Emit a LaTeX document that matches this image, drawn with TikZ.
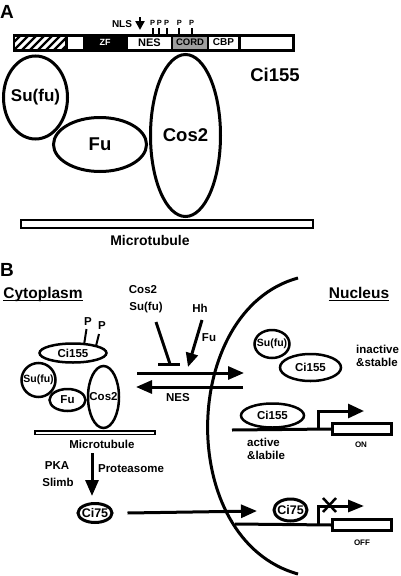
\documentclass[tikz,border=0pt]{standalone}
\usepackage{fontspec}
\setmainfont{Liberation Sans}
\usetikzlibrary{shapes.geometric,arrows.meta}
\definecolor{cordgray}{gray}{0.62}
\tikzset{
  blob/.style={ellipse,draw,fill=white,line width=2.5pt,inner sep=0pt},
  bigblob/.style={blob,line width=3pt},
  txt/.style={font=\bfseries\fontsize{11.5}{13}\selectfont,inner sep=0pt},
  bigtxt/.style={font=\bfseries\fontsize{18.5}{19}\selectfont,inner sep=0pt},
  smalltxt/.style={font=\bfseries\fontsize{8}{8}\selectfont,inner sep=0pt},
  panel/.style={font=\bfseries\fontsize{19}{19}\selectfont,inner sep=0pt},
  title/.style={font=\bfseries\fontsize{15.5}{16}\selectfont,inner sep=0pt,anchor=base},
  seg/.style={fill=white,inner sep=0pt,minimum height=12pt,font=\bfseries\fontsize{10}{10}\selectfont},
  fat/.style={line width=3pt},
  head/.style={-{Triangle[length=16pt,width=13pt]}},
  gene/.style={draw,fill=white,line width=2.5pt,inner sep=0pt,minimum width=59pt,minimum height=11pt}
}
\begin{document}
\begin{tikzpicture}[x=1pt,y=-1pt]
\useasboundingbox (0,0) rectangle (400,576);
\node[panel] (panelA) at (7,12) {A};
\fill (13,33.5) rectangle (295,52);
\begin{scope}
  \clip (15,36.5) rectangle (65,48.5);
  \fill[white] (15,36.5) rectangle (65,48.5);
  \foreach \x in {4,12,...,68} \draw[line width=2.2pt] (\x,52) -- (\x+20,32);
\end{scope}
\node[seg,minimum width=15pt] (blank) at (75.5,42.5) {};
\node[seg,fill=none,text=white,font=\bfseries\fontsize{9}{9}\selectfont] (zf) at (105,42.5) {ZF};
\node[seg,minimum width=43pt,font=\bfseries\fontsize{11}{11}\selectfont] (nes) at (149.5,42.5) {NES};
\node[seg,fill=cordgray,minimum width=34pt,font=\bfseries\fontsize{9.5}{9.5}\selectfont] (cord) at (190,42.5) {CORD};
\node[seg,minimum width=29pt] (cbp) at (223.5,42.5) {CBP};
\node[seg,minimum width=51pt] (tail) at (266.5,42.5) {};
\node[txt,font=\bfseries\fontsize{10}{10}\selectfont] (nls) at (122,24) {NLS};
\coordinate (nlsTop) at (140,17);
\coordinate (nlsTip) at (140,30);
\draw[line width=2.5pt,-{Triangle[length=9pt,width=9pt]}] (nlsTop) -- (nlsTip);
\foreach \x [count=\i] in {152.7,159.3,166.7,179.3,191.7} {
  \draw[line width=2pt] (\x,33.5) -- (\x,28);
  \node[smalltxt,font=\bfseries\fontsize{7.5}{7.5}\selectfont] (p\i) at (\x,23) {P};
}
\node[bigtxt] (ci155A) at (275,75) {Ci155};
\node[bigblob,minimum width=64pt,minimum height=83pt,label={[bigtxt,font=\bfseries\fontsize{17}{17}\selectfont]center:Su(fu)}] (sufuA) at (35.5,97.5) {};
\node[bigblob,minimum width=93pt,minimum height=54pt,label={[bigtxt]center:Fu}] (fuA) at (100,144.5) {};
\node[bigblob,minimum width=70pt,minimum height=162pt,label={[bigtxt]center:Cos2}] (cos2A) at (185.5,135.5) {};
\draw[line width=2pt] (21,220) rectangle (313,228);
\node[txt,font=\bfseries\fontsize{14}{14}\selectfont] (mtA) at (150,240) {Microtubule};

\node[panel] (panelB) at (7,270) {B};
\node[title] (cyto) at (43,298) {Cytoplasm};
\draw[line width=1.5pt] ([yshift=-2.5pt]cyto.base west) -- ([yshift=-2.5pt]cyto.base east);
\node[title] (nuc) at (359,298) {Nucleus};
\draw[line width=1.5pt] ([yshift=-2.5pt]nuc.base west) -- ([yshift=-2.5pt]nuc.base east);
\draw[fat] (298,278) .. controls (180,310) and (175,540) .. (298,574);

\draw[line width=2pt] (84,345) -- (86.5,329);
\draw[line width=2pt] (96,346) -- (99,334);
\node[blob,minimum width=67pt,minimum height=19pt,label={[txt]center:Ci155}] (ci155B) at (73,353) {};
\node[blob,minimum width=34pt,minimum height=34pt,label={[txt,font=\bfseries\fontsize{10.5}{10.5}\selectfont]center:Su(fu)}] (sufuB) at (38.5,380) {};
\node[blob,minimum width=36pt,minimum height=22pt,label={[txt]center:Fu}] (fuB) at (67.5,400) {};
\node[blob,minimum width=31pt,minimum height=62pt,label={[txt]center:Cos2}] (cos2B) at (103.5,397) {};
\node[txt] (pB1) at (88,322) {P};
\node[txt] (pB2) at (102,326) {P};
\draw[line width=1.3pt] (35,431) rectangle (155,434.5);
\node[txt] (mtB) at (102,444) {Microtubule};
\coordinate (degTop) at (92,453);
\coordinate (degTip) at (92,496);
\draw[fat,head] (degTop) -- (degTip);
\node[txt] (pka) at (57,466) {PKA};
\node[txt] (slimb) at (58,482) {Slimb};
\node[txt] (prot) at (131,469) {Proteasome};
\node[blob,line width=3pt,minimum width=34pt,minimum height=19pt,label={[txt,font=\bfseries\fontsize{12.5}{12.5}\selectfont]center:Ci75}] (ci75C) at (95,513) {};
\coordinate (enter) at (257,511);
\draw[fat,head] (ci75C.east) ++(14,0) coordinate (ci75Out) (ci75Out) -- (enter);

\node[txt] (cos2lbl) at (143,290) {Cos2};
\node[txt] (sufulbl) at (146,308) {Su(fu)};
\node[txt] (hh) at (200,308) {Hh};
\node[txt] (fulbl) at (209,338) {Fu};
\coordinate (inhTop) at (156,322);
\coordinate (inhEnd) at (170,364);
\draw[fat] (inhTop) -- (inhEnd);
\draw[fat] (158,364.5) -- (180,364.5);
\coordinate (hhTop) at (202,320);
\coordinate (hhTip) at (188,367);
\draw[fat,-{Triangle[length=14pt,width=12pt]}] (hhTop) -- (hhTip);
\coordinate (impL) at (137,373);
\coordinate (impR) at (244,373);
\draw[fat,head] (impL) -- (impR);
\coordinate (expR) at (243,387);
\coordinate (expL) at (136,387);
\draw[fat,head] (expR) -- (expL);
\node[txt] (neslbl) at (178,398) {NES};

\node[blob,minimum width=61pt,minimum height=27pt,label={[txt]center:Ci155}] (ci155N) at (310.5,367.5) {};
\node[blob,minimum width=35pt,minimum height=28pt,label={[txt,font=\bfseries\fontsize{10.5}{10.5}\selectfont]center:Su(fu)}] (sufuN) at (272,344) {};
\node[txt,align=left,anchor=west] (inact) at (356,356) {inactive\\\&stable};

\coordinate (dna1L) at (232,430);
\node[gene] (on) at (362,429) {};
\node[smalltxt] (onlbl) at (361,445) {ON};
\draw[fat] (dna1L) -- (on.west);
\node[blob,minimum width=63pt,minimum height=24pt,label={[txt]center:Ci155}] (ci155D) at (272.5,415.5) {};
\coordinate (tss1) at (318,430);
\coordinate (tss1Tip) at (364,411);
\draw[fat,-{Triangle[length=16pt,width=14pt]}] (tss1) |- (tss1Tip);
\node[txt,align=left,anchor=west] (act) at (247,449) {active\\\&labile};

\coordinate (dna2L) at (235,524);
\node[gene] (off) at (362,525) {};
\node[smalltxt] (offlbl) at (362,543) {OFF};
\draw[fat] (dna2L) -- (off.west);
\node[blob,line width=3pt,minimum width=33pt,minimum height=22pt,label={[txt,font=\bfseries\fontsize{12.5}{12.5}\selectfont]center:Ci75}] (ci75N) at (290.5,510) {};
\coordinate (tss2) at (318,524);
\coordinate (tss2Tip) at (364,506);
\draw[fat,-{Triangle[length=16pt,width=12pt]}] (tss2) |- (tss2Tip);
\draw[line width=2.5pt] (323,498) -- (336,512) (336,498) -- (323,512);
\end{tikzpicture}
\end{document}
